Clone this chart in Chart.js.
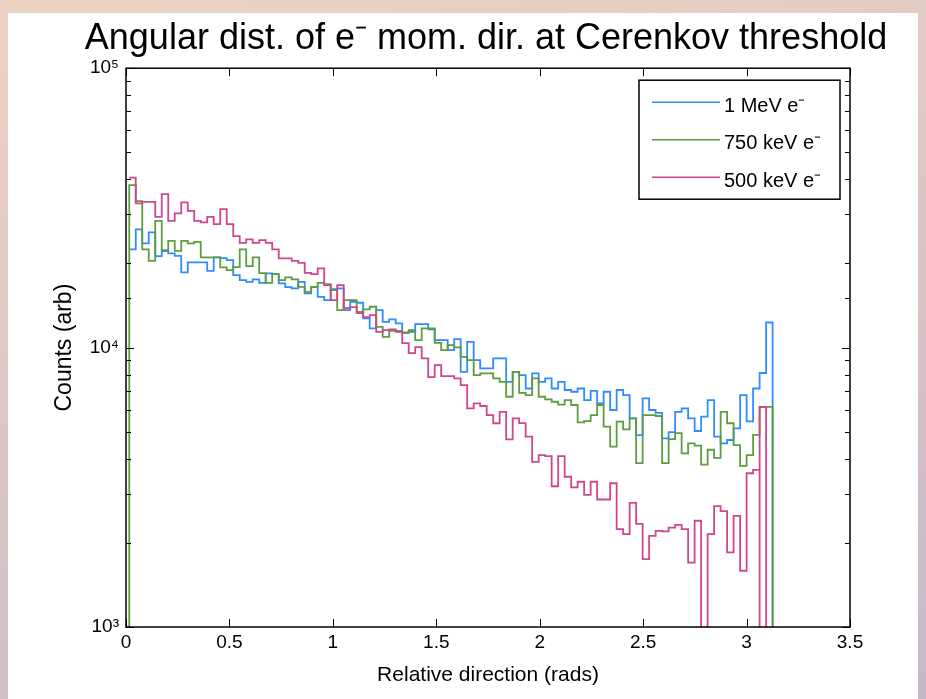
<!DOCTYPE html>
<html>
<head>
<meta charset="utf-8">
<script src="https://cdn.jsdelivr.net/npm/chart.js@4.4.1/dist/chart.umd.min.js"></script>
<style>
  html, body { margin: 0; padding: 0; }
  body {
    width: 926px; height: 699px; overflow: hidden; position: relative;
    background: linear-gradient(165deg, #ecd3c3 0%, #ddc7c3 45%, #c7b7cd 100%);
  }
  #panel { position: absolute; left: 8px; top: 13px; right: 8px; bottom: 0; background: #fff; }
  #myChart { position: absolute; left: 0; top: 0; }
</style>
</head>
<body>
<div id="panel"></div>
<canvas id="myChart" width="926" height="699"></canvas>
<script>
// histogram: 100 bins over 0..pi, counts (stairs style)
var binCount = 100;
var binWidth = Math.PI / binCount;

var seriesLabels = ["1 MeV e\u207B", "750 keV e\u207B", "500 keV e\u207B"];
var seriesColors = ["#2f8cff", "#5e9c3e", "#d0468c"];

var blueCounts = [
    22460, 26480, 23590, 25840, 21250, 22140, 21730, 21300, 18580, 20170,
    20170, 20170, 18830, 21020, 20900, 20560, 18170, 17440, 17200, 17540,
    17050, 18430, 18320, 16970, 16460, 16290, 17200, 15630, 16500, 15200,
    14790, 16190, 16290, 13620, 14580, 14470, 12720, 11710, 13620, 12370,
    12620, 12210, 11300, 11390, 12140, 12140, 11620, 10640, 10640, 9800,
    10720, 8190, 10490, 9020, 8430, 8430, 9150, 9150, 7540, 8190,
    7970, 7140, 8090, 7540, 7760, 7140, 7540, 7050, 6950, 7140,
    6490, 7000, 6320, 6950, 5980, 7050, 6760, 5580, 4860, 6580,
    5980, 5840, 4730, 4980, 5890, 6060, 5580, 5030, 5660, 6490,
    4800, 4540, 4670, 5140, 6760, 5440, 7140, 8110, 12300, 100,
];

var greenCounts = [
    38140, 33440, 22460, 20440, 28420, 22330, 24110, 22200, 24110, 23590,
    23910, 21020, 21020, 21020, 19360, 18940, 19410, 22460, 19570, 21020,
    18470, 17050, 18320, 17440, 17830, 17540, 16500, 15830, 16500, 17050,
    16870, 16060, 13620, 14790, 14790, 13430, 13700, 14000, 11870, 10930,
    11480, 11480, 11300, 11550, 10640, 11710, 11710, 10400, 9800, 10210,
    10020, 9270, 9020, 7970, 8090, 8090, 7760, 7540, 6670, 8190,
    6890, 6760, 7760, 6670, 6530, 6400, 6250, 6490, 6230, 5400,
    5460, 5730, 6230, 5210, 4420, 5430, 5100, 5580, 3860, 5730,
    5730, 5690, 3860, 4700, 4940, 4180, 4540, 4460, 3810, 4310,
    4030, 5890, 5360, 4480, 3770, 4120, 4870, 6140, 6140, 100,
];

var pinkCounts = [
    40600, 32800, 33250, 33250, 29380, 35420, 28420, 30210, 33080, 30860,
    28420, 28050, 29380, 27660, 31300, 27660, 25060, 23710, 24390, 23710,
    24250, 23710, 22460, 20850, 20850, 20440, 20110, 18520, 18320, 19200,
    16730, 14790, 16730, 13850, 13960, 13290, 12860, 13070, 11390, 11550,
    11620, 11390, 10380, 9560, 10040, 9150, 7840, 8660, 7910, 7910,
    7760, 7340, 6060, 6320, 6180, 5730, 5360, 5890, 4690, 5580,
    5370, 4800, 3900, 4120, 4090, 3190, 4090, 3450, 3160, 3310,
    2970, 3310, 2860, 2860, 3270, 2240, 2150, 2780, 2340, 1750,
    2120, 2210, 2200, 2270, 2320, 2240, 1700, 2400, 100, 2150,
    2710, 2600, 1850, 2500, 1590, 3550, 3650, 6140, 100, 100,
];

// empty-bin drops seen in the traces: [bin index whose left edge drops, count]
var greenDrops = [[-0.5, 100]];
var pinkDrops = [[97, 100]];

var xTickValues = [0, 0.5, 1, 1.5, 2, 2.5, 3, 3.5];
var xTickLabels = ["0", "0.5", "1", "1.5", "2", "2.5", "3", "3.5"];
var yTickValues = [1000, 10000, 100000];
var yTickLabels = ["10\u00B3", "10\u2074", "10\u2075"];

var binCenters = blueCounts.map(function (_, i) { return (i + 0.5) * binWidth; });

function toPoints(counts, drops) {
    var pts = [];
    (drops || []).forEach(function (d) {
        pts.push({ x: (d[0] + 0.5) * binWidth, y: d[1] });
    });
    counts.forEach(function (v, i) { pts.push({ x: binCenters[i], y: v }); });
    return pts.sort(function (a, b) { return a.x - b.x; });
}

var boxPlugin = {
    id: "matlabBox",
    afterDraw: function (chart) {
        var c = chart.ctx, a = chart.chartArea;
        var xs = chart.scales.x, ys = chart.scales.y;
        c.save();
        c.strokeStyle = "#000";
        c.lineWidth = 1;
        c.beginPath();
        xs.ticks.forEach(function (t) {
            var px = Math.round(xs.getPixelForValue(t.value)) + 0.5;
            c.moveTo(px, a.bottom); c.lineTo(px, a.bottom - 8);
            c.moveTo(px, a.top); c.lineTo(px, a.top + 8);
        });
        ys.ticks.forEach(function (t) {
            var py = Math.round(ys.getPixelForValue(t.value)) + 0.5;
            var len = yTickValues.indexOf(t.value) >= 0 ? 8 : 5;
            c.moveTo(a.left, py); c.lineTo(a.left + len, py);
            c.moveTo(a.right, py); c.lineTo(a.right - len, py);
        });
        c.stroke();
        c.lineWidth = 1.5;
        c.strokeRect(a.left, a.top, a.right - a.left, a.bottom - a.top);

        // legend box
        var lw = 201, lh = 119;
        var lx = a.right - 211, ly = a.top + 12;
        c.fillStyle = "#fff";
        c.fillRect(lx, ly, lw, lh);
        c.strokeRect(lx, ly, lw, lh);
        c.font = "20px 'Liberation Sans', Arial, sans-serif";
        c.textBaseline = "middle";
        c.textAlign = "left";
        chart.data.datasets.forEach(function (ds, i) {
            var ry = ly + 22 + i * 37.5;
            c.strokeStyle = ds.borderColor;
            c.lineWidth = 1.5;
            c.beginPath();
            c.moveTo(lx + 13, ry);
            c.lineTo(lx + 81, ry);
            c.stroke();
            c.fillStyle = "#000";
            c.fillText(ds.label, lx + 85, ry + 4);
        });
        c.restore();
    },
};

Chart.defaults.font.family = "'Liberation Sans', Arial, Helvetica, sans-serif";
Chart.defaults.color = "#000";

var ctx = document.getElementById("myChart").getContext("2d");

var myChart = new Chart(ctx, {
    type: "line",
    data: {
        datasets: [
            {
                label: seriesLabels[0],
                data: toPoints(blueCounts),
                borderColor: seriesColors[0],
                order: 3,
            },
            {
                label: seriesLabels[1],
                data: toPoints(greenCounts, greenDrops),
                borderColor: seriesColors[1],
                order: 2,
            },
            {
                label: seriesLabels[2],
                data: toPoints(pinkCounts, pinkDrops),
                borderColor: seriesColors[2],
                order: 1,
            },
        ],
    },
    options: {
        responsive: false,
        maintainAspectRatio: false,
        animation: false,
        layout: { padding: { left: 46, right: 0, top: 0, bottom: 0 } },
        elements: {
            line: { borderWidth: 1.8, stepped: true, tension: 0, fill: false },
            point: { radius: 0, hoverRadius: 0 },
        },
        datasets: { line: { clip: 0 } },
        plugins: {
            legend: { display: false },
            tooltip: { enabled: false },
            title: {
                display: true,
                fullSize: true,
                text: "Angular dist. of e\u207B mom. dir. at Cerenkov threshold",
                font: { size: 36, weight: "normal" },
                padding: { top: 17, bottom: 8 },
            },
        },
        scales: {
            x: {
                type: "linear",
                min: 0,
                max: 3.5,
                afterBuildTicks: function (s) {
                    s.ticks = xTickValues.map(function (v) { return { value: v }; });
                },
                afterFit: function (s) { s.height = 72; },
                grid: { display: false, drawTicks: false },
                border: { display: false },
                ticks: {
                    font: { size: 19 },
                    padding: 4,
                    maxRotation: 0,
                    autoSkip: false,
                    callback: function (v) {
                        var k = xTickValues.indexOf(v);
                        return k >= 0 ? xTickLabels[k] : "";
                    },
                },
                title: {
                    display: true,
                    text: "Relative direction (rads)",
                    font: { size: 21 },
                    padding: { top: 0, bottom: 11 },
                },
            },
            y: {
                type: "logarithmic",
                min: 1000,
                max: 100000,
                afterFit: function (s) { s.width = 80; },
                grid: { display: false, drawTicks: false },
                border: { display: false },
                ticks: {
                    font: { size: 19 },
                    padding: 7,
                    autoSkip: false,
                    callback: function (v) {
                        var k = yTickValues.indexOf(v);
                        return k >= 0 ? yTickLabels[k] : "";
                    },
                },
                title: {
                    display: true,
                    text: "Counts (arb)",
                    font: { size: 23 },
                    padding: { top: 5, bottom: 0 },
                },
            },
            yRight: {
                type: "linear",
                position: "right",
                afterFit: function (s) { s.width = 76; },
                grid: { display: false, drawTicks: false },
                border: { display: false },
                ticks: { display: false },
            },
        },
    },
    plugins: [boxPlugin],
});
</script>
</body>
</html>
